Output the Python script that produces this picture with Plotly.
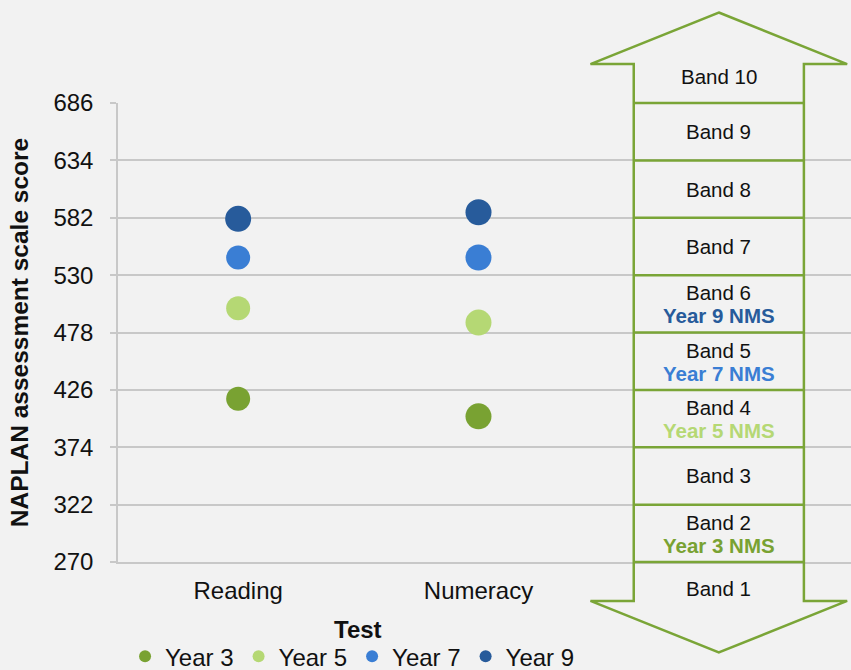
import plotly.graph_objects as go

# ---- data -------------------------------------------------------------
TESTS = ["Reading", "Numeracy"]
YEAR3 = [418, 402]
YEAR5 = [500, 487]
YEAR7 = [546, 546]
YEAR9 = [581, 587]
SERIES = [("Year 3", YEAR3), ("Year 5", YEAR5), ("Year 7", YEAR7), ("Year 9", YEAR9)]

SCALE_TICKS = [270, 322, 374, 426, 478, 530, 582, 634, 686]
BANDS = ["Band 1", "Band 2", "Band 3", "Band 4", "Band 5",
         "Band 6", "Band 7", "Band 8", "Band 9", "Band 10"]
NMS = {"Band 2": "Year 3", "Band 4": "Year 5", "Band 5": "Year 7", "Band 6": "Year 9"}

# ---- styling ----------------------------------------------------------
COLORS = {"Year 3": "#79A232", "Year 5": "#B5D874",
          "Year 7": "#3A7ED4", "Year 9": "#275B9B"}
MARKER_SIZES = {"Year 3": [24, 26], "Year 5": [24, 26],
                "Year 7": [24, 26], "Year 9": [26, 26]}
BG = "#F2F2F2"
GRID = "#C8C8C8"
ARROW_GREEN = "#7AA537"
FONT = "Liberation Sans, Arial, sans-serif"
TEXT = "#111111"

Y_MIN, Y_MAX = SCALE_TICKS[0], SCALE_TICKS[-1]


def frac(v):
    """Score value -> fraction of the plot height (paper units)."""
    return (v - Y_MIN) / (Y_MAX - Y_MIN)


BAND_X = len(TESTS)          # band ladder sits in the slot after the tests
COL_HALF = 0.354             # half width of the ladder column
HEAD_HALF = 0.534            # half width of the arrow heads
HEAD_BASE = 35.3             # score units from end band edge to head shoulder
HEAD_TIP = 82.0              # score units from end band edge to head tip
OUTER_LABEL = 24.0           # Band 1 / Band 10 label offset from the edge

fig = go.Figure()

for name, vals in SERIES:
    fig.add_trace(go.Scatter(
        x=list(range(len(TESTS))), y=vals, name=name, mode="markers",
        marker=dict(color=COLORS[name], size=MARKER_SIZES[name], opacity=1,
                    line=dict(width=0)),
        hoverinfo="skip", cliponaxis=False,
    ))

# ---- double-headed band ladder ----------------------------------------
xl, xr = BAND_X - COL_HALF, BAND_X + COL_HALF
hl, hr = BAND_X - HEAD_HALF, BAND_X + HEAD_HALF
top_base, top_tip = frac(Y_MAX + HEAD_BASE), frac(Y_MAX + HEAD_TIP)
bot_base, bot_tip = frac(Y_MIN - HEAD_BASE), frac(Y_MIN - HEAD_TIP)
outline = (
    f"M {BAND_X} {top_tip} L {hr} {top_base} L {xr} {top_base} "
    f"L {xr} {bot_base} L {hr} {bot_base} L {BAND_X} {bot_tip} "
    f"L {hl} {bot_base} L {xl} {bot_base} L {xl} {top_base} "
    f"L {hl} {top_base} Z"
)
shapes = [dict(type="path", path=outline, xref="x", yref="paper",
               line=dict(color=ARROW_GREEN, width=2.5), fillcolor="rgba(0,0,0,0)")]
for v in SCALE_TICKS:
    shapes.append(dict(type="line", xref="x", yref="paper",
                       x0=xl, x1=xr, y0=frac(v), y1=frac(v),
                       line=dict(color=ARROW_GREEN, width=2.5)))

annotations = []
# Band label positions: midpoints of inner bands, offsets for the end bands
band_pos = ([Y_MIN - OUTER_LABEL]
            + [(a + b) / 2 for a, b in zip(SCALE_TICKS[:-1], SCALE_TICKS[1:])]
            + [Y_MAX + OUTER_LABEL])
label_common = dict(x=BAND_X, xref="x", yref="paper", showarrow=False,
                    xanchor="center", yanchor="middle")
for band, pos in zip(BANDS, band_pos):
    if band in NMS:
        year = NMS[band]
        annotations.append(dict(label_common, y=frac(pos), text=band, yshift=11,
                                font=dict(size=20.5, color=TEXT, family=FONT)))
        annotations.append(dict(label_common, y=frac(pos), text=f"<b>{year} NMS</b>",
                                yshift=-12,
                                font=dict(size=20.5, color=COLORS[year], family=FONT)))
    else:
        annotations.append(dict(label_common, y=frac(pos), text=band,
                                font=dict(size=20.5, color=TEXT, family=FONT)))

# x-axis title centred under the two tests
annotations.append(dict(x=(len(TESTS) - 1) / 2, y=-0.148, xref="x", yref="paper",
                        text="<b>Test</b>", showarrow=False,
                        xanchor="center", yanchor="middle",
                        font=dict(size=24, color=TEXT, family=FONT)))

fig.update_layout(
    width=851, height=670,
    margin=dict(l=118, r=0, t=103, b=108, autoexpand=False),
    paper_bgcolor=BG, plot_bgcolor=BG,
    font=dict(family=FONT, size=24, color=TEXT),
    shapes=shapes, annotations=annotations,
    showlegend=True,
    legend=dict(orientation="h", x=0.32, xanchor="center",
                yref="container", y=0.02, yanchor="middle",
                itemsizing="constant", itemwidth=30,
                font=dict(size=24, color=TEXT), bgcolor="rgba(0,0,0,0)",
                tracegroupgap=0, itemclick=False),
    xaxis=dict(range=[-0.5, 2.55], tickvals=list(range(len(TESTS))), ticktext=TESTS,
               showgrid=False, zeroline=False, showline=True, linecolor=GRID,
               linewidth=1.5, ticks="", ticklabelstandoff=6,
               tickfont=dict(size=24, color=TEXT)),
    yaxis=dict(range=[Y_MIN, Y_MAX], tickvals=SCALE_TICKS, showgrid=True,
               gridcolor=GRID, gridwidth=1.5, zeroline=False, showline=True,
               linecolor=GRID, linewidth=1.5, ticks="outside", ticklen=6,
               tickcolor=GRID, tickwidth=1.5, ticklabelstandoff=12,
               tickfont=dict(size=24, color=TEXT),
               title=dict(text="<b>NAPLAN assessment scale score</b>",
                          font=dict(size=24.5, color=TEXT), standoff=18)),
)

fig.write_html("out.html")
